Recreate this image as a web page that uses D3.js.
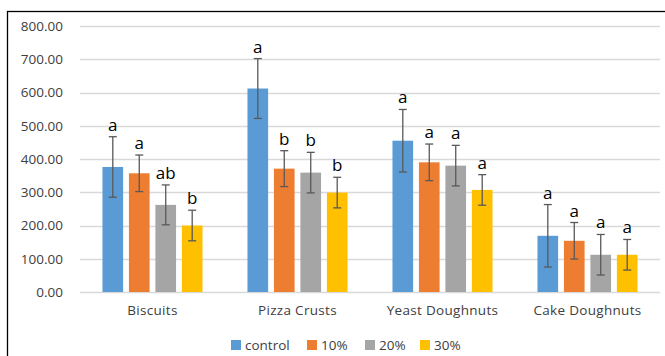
<!DOCTYPE html>
<html>
<head>
<meta charset="utf-8">
<script src="https://cdn.jsdelivr.net/npm/d3@7"></script>
<style>
  body { margin: 0; background: #fff; }
  svg { display: block; font-family: "Open Sans", sans-serif; }
</style>
</head>
<body>
<div id="chart"></div>
<script>
// data
var categories = ["Biscuits", "Pizza Crusts", "Yeast Doughnuts", "Cake Doughnuts"];
var seriesNames = ["control", "10%", "20%", "30%"];
var seriesColors = ["#5B9BD5", "#ED7D31", "#A5A5A5", "#FFC000"];
var controlVals = [376, 612, 455, 169];
var tenVals = [357, 371, 390, 154];
var twentyVals = [262, 359, 380, 112];
var thirtyVals = [200, 299, 307, 112];
var controlErr = [91, 90, 94, 94];
var tenErr = [55, 54, 55, 55];
var twentyErr = [60, 61, 61, 61];
var thirtyErr = [46, 46, 46, 46];
var controlLetters = ["a", "a", "a", "a"];
var tenLetters = ["a", "b", "a", "a"];
var twentyLetters = ["ab", "b", "a", "a"];
var thirtyLetters = ["b", "b", "a", "a"];
var yTicks = [0, 100, 200, 300, 400, 500, 600, 700, 800];

var values = [controlVals, tenVals, twentyVals, thirtyVals];
var errors = [controlErr, tenErr, twentyErr, thirtyErr];
var letters = [controlLetters, tenLetters, twentyLetters, thirtyLetters];

var W = 665, H = 356;
var plot = {left: 80, right: 660, top: 26, bottom: 292};

var svg = d3.select("#chart").append("svg")
	.attr("width", W)
	.attr("height", H);

// outer frame
svg.append("rect")
	.attr("x", 7.5).attr("y", 11.5)
	.attr("width", 700).attr("height", 400)
	.style("fill", "none")
	.style("stroke", "#000")
	.style("stroke-width", 1.3);

var y = d3.scaleLinear().domain([0, 800]).range([plot.bottom, plot.top]);
var x0 = d3.scaleBand().domain(categories).range([plot.left, plot.right]).paddingInner(0.31).paddingOuter(0.155);
var x1 = d3.scaleBand().domain(d3.range(seriesNames.length)).range([0, x0.bandwidth()]).paddingInner(0.22);

// gridlines
svg.append("g").selectAll("line")
	.data(yTicks)
	.enter().append("line")
	.attr("x1", plot.left).attr("x2", plot.right)
	.attr("y1", function(d){ return Math.round(y(d)) + 0.5; })
	.attr("y2", function(d){ return Math.round(y(d)) + 0.5; })
	.style("stroke", "#d9d9d9")
	.style("stroke-width", 1.3);

// y axis labels
var yAxis = d3.axisLeft(y).tickValues(yTicks).tickFormat(d3.format(".2f")).tickSize(0).tickPadding(0);
var ya = svg.append("g").attr("transform", "translate(63,0)").call(yAxis);
ya.select(".domain").remove();
ya.selectAll("text")
	.style("font-family", "'Open Sans', sans-serif")
	.style("font-size", "13.5px")
	.style("fill", "#404040");

// bars
var groups = svg.append("g").selectAll("g")
	.data(seriesNames)
	.enter().append("g");

groups.each(function(name, s) {
	var g = d3.select(this);
	var rows = categories.map(function(c, i) {
		return {cat: c, v: values[s][i], e: errors[s][i], l: letters[s][i]};
	});
	g.selectAll("rect")
		.data(rows)
		.enter().append("rect")
		.attr("x", function(d){ return x0(d.cat) + x1(s); })
		.attr("width", x1.bandwidth())
		.attr("y", function(d){ return y(d.v); })
		.attr("height", function(d){ return y(0) - y(d.v); })
		.style("fill", seriesColors[s]);

	var cx = function(d){ return x0(d.cat) + x1(s) + x1.bandwidth() / 2; };
	var eb = g.selectAll(".err").data(rows).enter().append("g").attr("class", "err")
		.style("stroke", "#595959").style("stroke-width", 1.3);
	eb.append("line")
		.attr("x1", cx).attr("x2", cx)
		.attr("y1", function(d){ return y(d.v + d.e); })
		.attr("y2", function(d){ return y(d.v - d.e); });
	eb.append("line")
		.attr("x1", function(d){ return cx(d) - 4; }).attr("x2", function(d){ return cx(d) + 4; })
		.attr("y1", function(d){ return y(d.v + d.e); })
		.attr("y2", function(d){ return y(d.v + d.e); });
	eb.append("line")
		.attr("x1", function(d){ return cx(d) - 4; }).attr("x2", function(d){ return cx(d) + 4; })
		.attr("y1", function(d){ return y(d.v - d.e); })
		.attr("y2", function(d){ return y(d.v - d.e); });

	g.selectAll(".lab").data(rows).enter().append("text")
		.attr("class", "lab")
		.attr("x", cx)
		.attr("y", function(d){ return y(d.v + d.e) - 6; })
		.attr("text-anchor", "middle")
		.style("font-size", "17px")
		.style("fill", "#000")
		.text(function(d){ return d.l; });
});

// category labels
svg.append("g").selectAll("text")
	.data(categories)
	.enter().append("text")
	.attr("x", function(d){ return x0(d) + x0.bandwidth() / 2; })
	.attr("y", 315)
	.attr("text-anchor", "middle")
	.style("font-size", "13.5px")
	.style("letter-spacing", "0.3px")
	.style("fill", "#404040")
	.text(function(d){ return d; });

// legend
var legendX = [231, 307, 365, 420];
var leg = svg.append("g").selectAll("g")
	.data(seriesNames)
	.enter().append("g")
	.attr("transform", function(d, i){ return "translate(" + legendX[i] + ",340)"; });
leg.append("rect")
	.attr("width", 10).attr("height", 10)
	.style("fill", function(d, i){ return seriesColors[i]; });
leg.append("text")
	.attr("x", 14).attr("y", 10)
	.style("font-size", "13.5px")
	.style("fill", "#404040")
	.text(function(d){ return d; });
</script>
</body>
</html>
